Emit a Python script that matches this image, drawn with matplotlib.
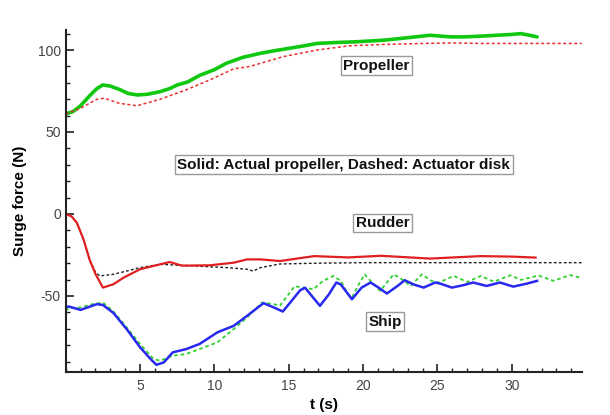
import matplotlib
matplotlib.use("Agg")
import matplotlib.pyplot as plt
from matplotlib.ticker import MultipleLocator, FixedLocator

plt.rcParams['font.family'] = ['Liberation Sans', 'DejaVu Sans']
plt.rcParams['axes.unicode_minus'] = False

# Propeller, actual propeller (solid green)
prop_act_t = [0.0, 0.5, 1.0, 1.6, 2.1, 2.5, 3.0, 3.6, 4.2, 4.8, 5.5, 6.35, 7.0, 7.5, 8.2, 9.0, 10.0, 10.8, 11.9, 13.1, 14.0, 15.0, 16.0, 16.9, 18.0, 19.5, 21.4, 23.0, 24.5, 25.9, 26.8, 28.0, 29.0, 30.0, 30.6, 31.2, 31.7]
prop_act_v = [61.0, 62.5, 66.0, 72.0, 76.5, 78.7, 78.0, 76.0, 73.5, 72.6, 73.0, 74.6, 76.5, 78.7, 80.5, 84.5, 88.0, 91.9, 95.5, 98.0, 99.5, 101.0, 102.5, 104.0, 104.5, 105.0, 106.0, 107.5, 109.0, 108.0, 108.0, 108.5, 109.0, 109.5, 110.0, 109.0, 108.0]

# Propeller, actuator disk (dashed red)
prop_ad_t = [0.0, 1.0, 2.1, 2.6, 3.6, 4.8, 6.35, 8.1, 9.7, 11.3, 12.4, 13.1, 14.6, 16.9, 19.1, 21.4, 24.0, 26.0, 28.0, 30.0, 32.0, 34.7]
prop_ad_v = [61.0, 64.5, 70.0, 70.6, 67.5, 66.0, 70.0, 75.7, 81.8, 88.5, 90.0, 91.9, 95.9, 100.0, 102.6, 103.4, 104.0, 104.3, 104.0, 104.0, 104.0, 104.0]

# Rudder, actual propeller (solid red)
rud_act_t = [0.0, 0.4, 0.75, 1.2, 1.6, 2.0, 2.5, 3.2, 3.9, 5.0, 6.35, 7.0, 7.8, 9.7, 11.3, 12.2, 13.1, 14.4, 16.7, 19.0, 21.2, 24.5, 27.9, 30.0, 31.6]
rud_act_v = [0.0, -1.5, -5.4, -15.5, -27.7, -36.5, -44.9, -42.9, -38.8, -33.7, -30.7, -29.3, -31.5, -31.3, -29.7, -27.7, -27.7, -28.7, -25.7, -26.5, -25.5, -27.2, -25.7, -26.0, -26.6]

# Rudder, actuator disk (dashed black)
rud_ad_t = [0.0, 0.4, 0.75, 1.2, 1.6, 2.0, 2.3, 3.2, 4.1, 5.0, 6.35, 8.6, 10.8, 12.2, 12.6, 13.1, 14.4, 17.0, 20.0, 25.0, 30.0, 34.7]
rud_ad_v = [0.0, -1.5, -5.4, -15.5, -27.7, -35.5, -37.8, -36.8, -34.8, -32.7, -30.7, -31.7, -32.7, -33.7, -34.8, -32.7, -30.5, -30.0, -29.7, -29.7, -29.7, -29.7]

# Ship, actual propeller (solid blue)
ship_act_t = [0.0, 0.2, 1.0, 2.1, 2.5, 3.2, 4.1, 5.0, 5.7, 6.1, 6.6, 7.2, 8.1, 9.0, 10.2, 11.3, 12.2, 13.3, 14.0, 14.6, 15.1, 15.77, 16.1, 16.55, 17.1, 17.7, 18.2, 18.5, 19.25, 19.9, 20.5, 21.04, 21.6, 22.3, 22.8, 23.4, 24.07, 24.85, 25.2, 25.97, 26.75, 27.4, 28.3, 29.2, 30.1, 31.0, 31.7]
ship_act_v = [-57.0, -56.4, -58.5, -55.0, -55.5, -60.3, -70.2, -81.3, -88.4, -92.0, -90.5, -84.4, -82.4, -79.3, -72.2, -68.2, -62.1, -54.4, -57.0, -59.5, -54.0, -46.5, -45.0, -50.0, -56.0, -49.0, -41.8, -43.0, -52.0, -44.9, -41.8, -44.9, -48.5, -44.0, -40.4, -43.0, -44.9, -41.8, -42.5, -44.9, -43.4, -41.8, -43.9, -41.8, -44.3, -42.5, -40.8]

# Ship, actuator disk (dashed green)
ship_ad_t = [0.0, 0.2, 1.0, 1.8, 2.5, 3.2, 4.1, 5.0, 5.9, 6.35, 7.2, 8.1, 9.0, 10.2, 11.3, 12.2, 13.2, 14.0, 14.4, 14.9, 15.4, 16.0, 16.66, 17.3, 18.0, 18.5, 19.0, 19.25, 19.7, 20.1, 20.6, 21.15, 21.6, 22.05, 22.6, 23.2, 23.95, 24.6, 25.1, 26.1, 27.0, 27.9, 28.8, 29.9, 30.6, 31.8, 32.8, 33.9, 34.7]
ship_ad_v = [-59.0, -57.6, -57.0, -55.0, -54.0, -59.3, -69.2, -79.3, -88.4, -89.5, -86.4, -85.4, -82.4, -78.3, -70.2, -63.1, -54.0, -55.0, -56.0, -50.0, -44.0, -44.9, -45.9, -40.8, -37.8, -40.8, -49.0, -51.0, -43.0, -36.8, -41.8, -46.9, -41.8, -36.8, -39.8, -43.9, -36.8, -40.8, -41.8, -37.8, -41.5, -37.8, -41.3, -37.4, -40.2, -37.5, -40.8, -37.3, -39.0]

x_ticks = [5, 10, 15, 20, 25, 30]
y_ticks = [-50, 0, 50, 100]

labels = ["Propeller", "Solid: Actual propeller, Dashed: Actuator disk", "Rudder", "Ship"]
label_t = [20.9, 18.7, 21.3, 21.5]
label_v = [90.5, 30.0, -5.6, -65.7]

fig = plt.figure(figsize=(6.1, 4.15), dpi=100)
ax = fig.add_axes([0.1077, 0.1043, 0.8459, 0.8234])

dash = (0, (2.0, 1.6))
ax.plot(prop_act_t, prop_act_v, color='#10c810', lw=2.6, solid_capstyle='round')
ax.plot(prop_ad_t, prop_ad_v, color='#e83030', lw=1.1, ls=dash)
ax.plot(rud_ad_t, rud_ad_v, color='#202020', lw=1.0, ls=dash)
ax.plot(rud_act_t, rud_act_v, color='#e02020', lw=1.6)
ax.plot(ship_ad_t, ship_ad_v, color='#30d030', lw=1.3, ls=dash)
ax.plot(ship_act_t, ship_act_v, color='#2828f0', lw=1.8)

ax.set_xlim(0, 34.7)
ax.set_ylim(-96.2, 112.2)
ax.xaxis.set_major_locator(FixedLocator(x_ticks))
ax.yaxis.set_major_locator(FixedLocator(y_ticks))
ax.xaxis.set_minor_locator(MultipleLocator(1))
ax.yaxis.set_minor_locator(MultipleLocator(10))
ax.tick_params(which='major', direction='in', length=6, width=1.2, labelsize=10, colors='#222222', labelcolor='#444444')
ax.tick_params(which='minor', direction='in', length=3, width=1.0, colors='#222222')
ax.tick_params(axis='x', pad=5)

for s in ['top', 'right']:
    ax.spines[s].set_visible(False)
for s in ['left', 'bottom']:
    ax.spines[s].set_linewidth(1.5)
    ax.spines[s].set_color('#222222')

ax.set_xlabel('t (s)', fontsize=11, fontweight='bold', labelpad=4)
ax.set_ylabel('Surge force (N)', fontsize=11, fontweight='bold', labelpad=8)

for txt, tt, vv in zip(labels, label_t, label_v):
    ax.text(tt, vv, txt, ha='center', va='center', fontsize=11, fontweight='bold', color='#111111',
            bbox=dict(boxstyle='square,pad=0.15', facecolor='white', edgecolor='#999999', linewidth=1.0))

fig.savefig('out.png', dpi=100)
